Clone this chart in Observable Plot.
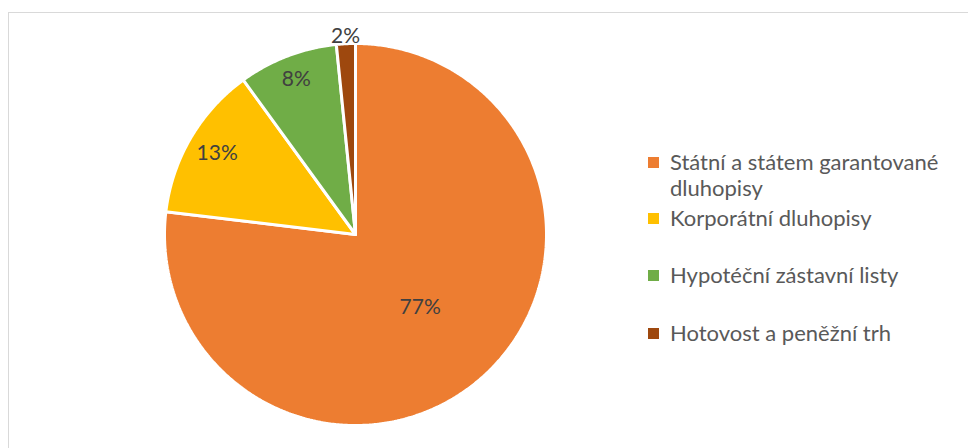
<!DOCTYPE html>
<html>
<head>
<meta charset="utf-8">
<script src="https://cdn.jsdelivr.net/npm/d3@7"></script>
<script src="https://cdn.jsdelivr.net/npm/@observablehq/plot@0.6"></script>
<style>
  html, body { margin: 0; padding: 0; background: #fff; overflow: hidden; }
  #wrap { position: relative; width: 968px; height: 448px; font-family: Lato, "Open Sans", sans-serif; }
  #frame { position: absolute; left: 8px; top: 12px; width: 1000px; height: 500px; border: 1.5px solid #d9d9d9; box-sizing: border-box; }
  #chart { position: absolute; left: 0; top: 0; }
  #legend { position: absolute; left: 648px; top: 0; color: #595959; font-size: 22px; line-height: 26px; }
  .item { position: absolute; left: 0; white-space: nowrap; }
  .sw { position: absolute; left: 0; width: 11px; height: 11px; }
  .lab { position: absolute; left: 22px; }
</style>
</head>
<body>
<div id="wrap">
  <div id="frame"></div>
  <div id="chart"></div>
  <div id="legend"></div>
</div>
<script>
const categories = ["Státní a státem garantované dluhopisy", "Korporátní dluhopisy", "Hypotéční zástavní listy", "Hotovost a peněžní trh"];
const legendLines = [["Státní a státem garantované", "dluhopisy"], ["Korporátní dluhopisy"], ["Hypotéční zástavní listy"], ["Hotovost a peněžní trh"]];
const shares = [76.9, 13.1, 8.4, 1.6];
const labels = ["77%", "13%", "8%", "2%"];
const colors = ["#ED7D31", "#FFC000", "#70AD47", "#9E480E"];

// pie layout (clockwise from 12 o'clock)
const total = d3.sum(shares);
let acc = 0;
const slices = shares.map((v, i) => {
  const a0 = acc / total * 2 * Math.PI;
  acc += v;
  const a1 = acc / total * 2 * Math.PI;
  return {cat: categories[i], a0, a1, share: v / total, label: labels[i]};
});

const pts = [];
for (const s of slices) {
  pts.push({cat: s.cat, x: 0, y: 0});
  const n = Math.max(2, Math.ceil((s.a1 - s.a0) / (Math.PI / 360)));
  for (let k = 0; k <= n; k++) {
    const a = s.a0 + (s.a1 - s.a0) * k / n;
    pts.push({cat: s.cat, x: Math.sin(a), y: Math.cos(a)});
  }
  pts.push({cat: s.cat, x: 0, y: 0});
}

const labelPts = slices.map(s => {
  const m = (s.a0 + s.a1) / 2;
  const r = s.share > 0.5 ? 0.51 : s.share < 0.03 ? 1.04 : s.share < 0.1 ? 0.87 : 0.84;
  return {x: r * Math.sin(m), y: r * Math.cos(m), label: s.label};
});

const chart = Plot.plot({
  width: 968,
  height: 448,
  marginLeft: 164,
  marginRight: 422,
  marginTop: 43,
  marginBottom: 23,
  x: {domain: [-1, 1], axis: null},
  y: {domain: [-1, 1], axis: null},
  color: {domain: categories, range: colors},
  style: {background: "transparent", overflow: "visible", fontFamily: "Lato, 'Open Sans', sans-serif"},
  marks: [
    Plot.line(pts, {x: "x", y: "y", z: "cat", fill: "cat", stroke: "white", strokeWidth: 3, strokeLinejoin: "miter", curve: "linear"}),
    Plot.text(labelPts, {x: "x", y: "y", text: "label", fill: "#404040", fontSize: 21})
  ]
});
document.getElementById("chart").appendChild(chart);

// legend
const legendTops = [149, 205, 262, 320];
const leg = document.getElementById("legend");
categories.forEach((c, i) => {
  const it = document.createElement("div");
  it.className = "item";
  it.style.top = legendTops[i] + "px";
  const sw = document.createElement("div");
  sw.className = "sw";
  sw.style.background = colors[i];
  sw.style.top = "8px";
  const lab = document.createElement("div");
  lab.className = "lab";
  lab.innerHTML = legendLines[i].join("<br>");
  it.appendChild(sw);
  it.appendChild(lab);
  leg.appendChild(it);
});
</script>
</body>
</html>
